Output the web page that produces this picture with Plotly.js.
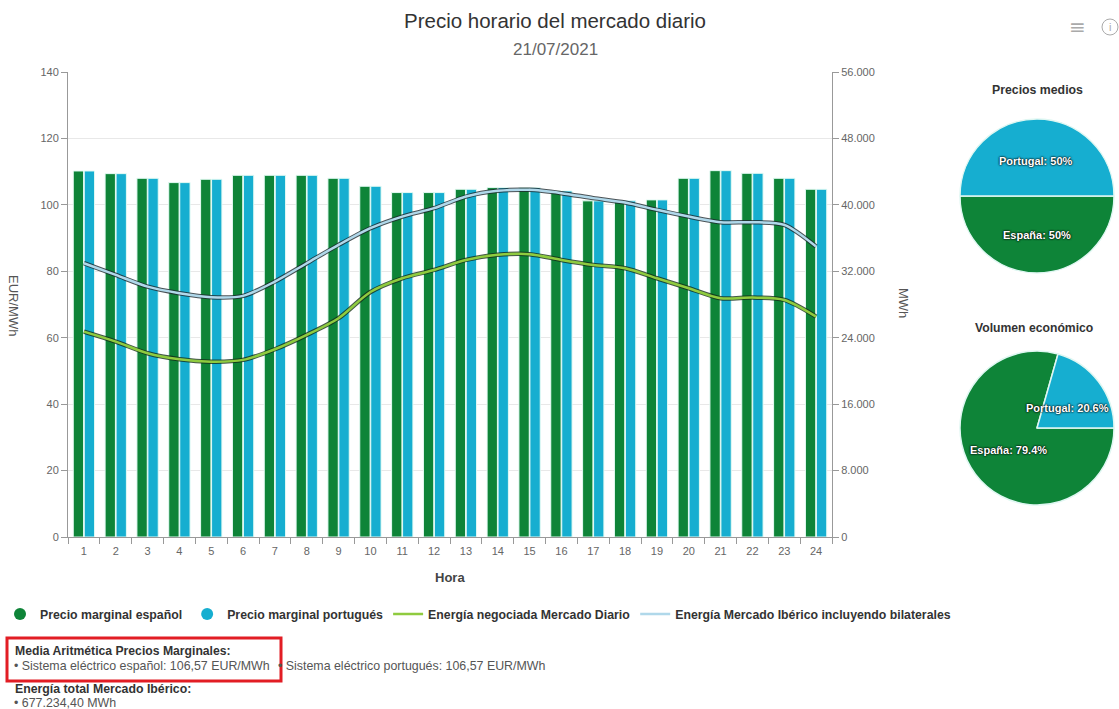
<!DOCTYPE html>
<html>
<head>
<meta charset="utf-8">
<script src="https://cdn.plot.ly/plotly-3.0.1.min.js"></script>
<style>
html,body{margin:0;padding:0;background:#fff;}
#chart{width:1119px;height:709px;}
</style>
</head>
<body>
<div id="chart"></div>
<script>
// ---- Data ----
const horas = ['1','2','3','4','5','6','7','8','9','10','11','12','13','14','15','16','17','18','19','20','21','22','23','24'];
const precioES = [110.2,109.4,108.0,106.7,107.7,108.9,108.9,108.9,108.0,105.6,103.7,103.7,104.7,105.2,105.2,104.2,101.2,101.2,101.5,108.0,110.3,109.5,108.0,104.7];
const precioPT = [110.2,109.4,108.0,106.7,107.7,108.9,108.9,108.9,108.0,105.6,103.7,103.7,104.7,105.2,105.2,104.2,101.2,101.2,101.5,108.0,110.3,109.5,108.0,104.7];
const energiaMD = [24730,23530,22130,21410,21120,21330,22610,24340,26350,29500,31160,32160,33370,33980,34060,33370,32770,32370,31160,29960,28750,28830,28550,26540];
const energiaMI = [32970,31560,30150,29360,28880,29040,30760,32970,35180,37190,38590,39600,41000,41690,41810,41410,40810,40280,39400,38590,37910,37910,37590,34980];
const pieLabels = ['España','Portugal'];
const preciosMedios = [50, 50];
const volumenEconomico = [79.4, 20.6];
const mediaES = 106.57;
const mediaPT = 106.57;
const energiaTotal = 677234.40;
const leftTicks = [0,20,40,60,80,100,120,140];
const rightTicks = [0,8000,16000,24000,32000,40000,48000,56000];

// ---- Styles ----
const W = 1119, H = 709;
const px = x => x / W;
const py = y => 1 - y / H;
const GREEN = '#0e8438';
const CYAN = '#16aed0';
const FONT = 'Liberation Sans, Arial, sans-serif';
const fmtES = (v, d) => v.toLocaleString('de-DE', {minimumFractionDigits: d, maximumFractionDigits: d});
const pct = (vals, i) => {
  const tot = vals.reduce((a, b) => a + b, 0);
  return String(Math.round(vals[i] / tot * 1000) / 10) + '%';
};

const traces = [
  {type:'bar', x:horas, y:precioES, name:'Precio marginal español', marker:{color:GREEN, line:{color:'#e4fbf4', width:1}}, showlegend:false, hoverinfo:'y'},
  {type:'bar', x:horas, y:precioPT, name:'Precio marginal portugués', marker:{color:CYAN, line:{color:'#e4fbf4', width:1}}, showlegend:false, hoverinfo:'y'},
  // shadows
  {type:'scatter', mode:'lines', x:horas, y:energiaMD, yaxis:'y2', line:{color:'rgba(20,45,25,0.8)', width:4.5, shape:'spline', smoothing:0.8}, showlegend:false, hoverinfo:'skip'},
  {type:'scatter', mode:'lines', x:horas, y:energiaMI, yaxis:'y2', line:{color:'rgba(30,40,45,0.8)', width:4.5, shape:'spline', smoothing:0.8}, showlegend:false, hoverinfo:'skip'},
  {type:'scatter', mode:'lines', x:horas, y:energiaMD, yaxis:'y2', name:'Energía negociada Mercado Diario', legendrank:3, line:{color:'#8fcb3f', width:2.5, shape:'spline', smoothing:0.8}},
  {type:'scatter', mode:'lines', x:horas, y:energiaMI, yaxis:'y2', name:'Energía Mercado Ibérico incluyendo bilaterales', legendrank:4, line:{color:'#b0d8ea', width:2.5, shape:'spline', smoothing:0.8}},
  // legend entries with circle symbols for the bar series
  {type:'scatter', mode:'markers', x:[null], y:[null], name:'Precio marginal español', legendrank:1, marker:{color:GREEN, size:12, symbol:'circle'}},
  {type:'scatter', mode:'markers', x:[null], y:[null], name:'Precio marginal portugués', legendrank:2, marker:{color:CYAN, size:12, symbol:'circle'}},
  // pies
  {type:'pie', labels:pieLabels, values:preciosMedios, sort:false, direction:'clockwise', rotation:90,
   marker:{colors:[GREEN, CYAN], line:{color:'#dff7f2', width:1.5}},
   domain:{x:[px(960), px(1114)], y:[py(273), py(119)]},
   textinfo:'none', showlegend:false, hoverinfo:'label+percent'},
  {type:'pie', labels:pieLabels, values:volumenEconomico, sort:false, direction:'clockwise', rotation:90,
   marker:{colors:[GREEN, CYAN], line:{color:'#dff7f2', width:1.5}},
   domain:{x:[px(960), px(1114)], y:[py(505), py(351)]},
   textinfo:'none', showlegend:false, hoverinfo:'label+percent'}
];

const ann = (x, y, text, opts) => Object.assign({xref:'paper', yref:'paper', x:px(x), y:py(y), text:text, showarrow:false,
  xanchor:'left', yanchor:'middle', font:{family:FONT, size:11, color:'#555'}}, opts || {});

const pieFont = {family:FONT, size:11, color:'#fff', weight:'bold', shadow:'0 0 2px #000, 0 0 2px #000'};

const annotations = [
  ann(555, 49, '21/07/2021', {xanchor:'center', font:{family:FONT, size:17, color:'#666'}}),
  ann(14, 305, 'EUR/MWh', {xanchor:'center', textangle:90, font:{family:FONT, size:13, color:'#555'}}),
  ann(904, 303, 'MWh', {xanchor:'center', textangle:90, font:{family:FONT, size:13, color:'#555'}}),
  ann(450, 577, '<b>Hora</b>', {xanchor:'center', font:{family:FONT, size:13, color:'#444'}}),
  ann(1037, 90, 'Precios medios', {xanchor:'center', font:{family:FONT, size:12.3, color:'#333', weight:'bold'}}),
  ann(1034, 328, 'Volumen económico', {xanchor:'center', font:{family:FONT, size:12.2, color:'#333', weight:'bold'}}),
  // pie labels
  ann(1036, 161, pieLabels[1] + ': ' + pct(preciosMedios, 1), {xanchor:'center', font:pieFont}),
  ann(1037, 235, pieLabels[0] + ': ' + pct(preciosMedios, 0), {xanchor:'center', font:pieFont}),
  ann(1067, 408, pieLabels[1] + ': ' + pct(volumenEconomico, 1), {xanchor:'center', font:pieFont}),
  ann(1008, 450, pieLabels[0] + ': ' + pct(volumenEconomico, 0), {xanchor:'center', font:pieFont}),
  // bottom info
  ann(13, 651, '<b>Media Aritmética Precios Marginales:</b>', {font:{family:FONT, size:12.2, color:'#333'}}),
  ann(12, 666, '• Sistema eléctrico español: ' + fmtES(mediaES, 2) + ' EUR/MWh', {font:{family:FONT, size:12.4, color:'#555'}}),
  ann(276, 666, '• Sistema eléctrico portugués: ' + fmtES(mediaPT, 2) + ' EUR/MWh', {font:{family:FONT, size:12.4, color:'#555'}}),
  ann(13, 689, '<b>Energía total Mercado Ibérico:</b>', {font:{family:FONT, size:12.3, color:'#333'}}),
  ann(12, 703, '• ' + fmtES(energiaTotal, 2) + ' MWh', {font:{family:FONT, size:12.4, color:'#555'}}),
  ann(1077, 27, '≡', {xanchor:'center', font:{family:'DejaVu Sans', size:20, color:'#aaa'}}),
  ann(1110, 27, 'i', {xanchor:'center', font:{family:FONT, size:11, color:'#aaa'}})
];

const shapes = [
  {type:'rect', xref:'paper', yref:'paper', x0:px(7), x1:px(281), y0:py(638), y1:py(681), line:{color:'#e21d24', width:3}},
  {type:'circle', xref:'paper', yref:'paper', x0:px(1102), x1:px(1118), y0:py(35), y1:py(19), line:{color:'#aaa', width:1}}
];

const layout = {
  width: W, height: H,
  margin: {l:0, r:0, t:0, b:0, pad:0},
  paper_bgcolor:'#fff', plot_bgcolor:'#fff',
  font: {family: FONT, size:11, color:'#666'},
  separators: ',.',
  title: {text:'Precio horario del mercado diario', x:px(555), xanchor:'center', xref:'paper', y:py(21), yref:'paper', yanchor:'middle',
          font:{family:FONT, size:20.5, color:'#333'}},
  barmode:'group', bargap:0.31, bargroupgap:0.06,
  xaxis: {type:'category', domain:[px(68), px(832)], tickson:'boundaries', ticks:'outside', ticklen:6, tickcolor:'#999',
          showline:true, linecolor:'#999', linewidth:1, showgrid:false, zeroline:false, ticklabelstandoff:4,
          tickfont:{family:FONT, size:11, color:'#666'}, fixedrange:true},
  yaxis: {domain:[py(537), py(72)], range:[0,140], tickvals:leftTicks, ticks:'outside', ticklen:6, tickcolor:'#999',
          showline:true, linecolor:'#999', linewidth:1, showgrid:true, gridcolor:'#e8e8e8', zeroline:false,
          tickfont:{family:FONT, size:11, color:'#666'}, fixedrange:true},
  yaxis2: {overlaying:'y', side:'right', range:[0,56000], tickvals:rightTicks, tickformat:',d', ticks:'outside', ticklen:6, tickcolor:'#999',
          showline:true, linecolor:'#999', linewidth:1, showgrid:false, zeroline:false,
          tickfont:{family:FONT, size:11, color:'#666'}, fixedrange:true},
  legend: {orientation:'h', x:0, xanchor:'left', y:py(614), yanchor:'middle', traceorder:'normal',
           font:{family:FONT, size:12.3, color:'#333', weight:'bold'}, itemwidth:30, bgcolor:'rgba(0,0,0,0)'},
  annotations: annotations,
  shapes: shapes
};

Plotly.newPlot('chart', traces, layout, {displayModeBar:false, responsive:false});
</script>
</body>
</html>
